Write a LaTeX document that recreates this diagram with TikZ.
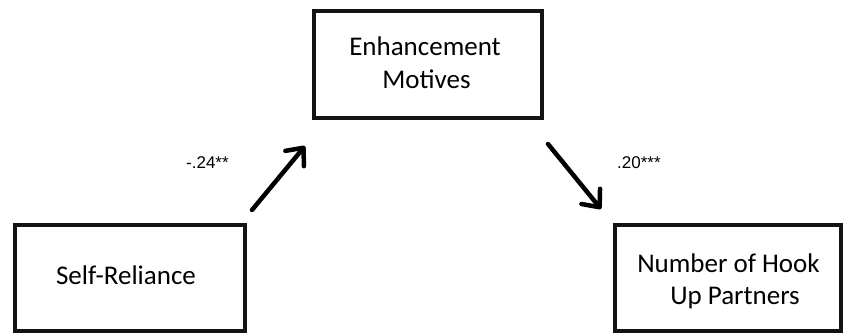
\documentclass[tikz,border=0pt]{standalone}
\usepackage{fontspec}
\setmainfont{Carlito}
\newfontfamily\labelfont{Liberation Sans}
\usetikzlibrary{arrows.meta}
\begin{document}
\begin{tikzpicture}[x=1pt,y=-1pt,
  boxnode/.style={draw=black!92, line width=4pt, inner sep=0pt},
  boxtext/.style={font={\fontsize{27}{33}\selectfont}, inner sep=0pt, anchor=base},
  coef/.style={font={\labelfont\fontsize{17}{20}\selectfont}, inner sep=0pt},
  path arrow/.style={line width=4.5pt, line cap=round, line join=round,
    -{Straight Barb[length=14pt, width=24pt, line cap=round, line join=round]}}]
\useasboundingbox (0,0) rectangle (843,335);
\node[boxnode, minimum width=228pt, minimum height=107pt] (enh) at (428,64.5) {};
\node[boxnode, minimum width=230pt, minimum height=106pt] (self) at (130,278) {};
\node[boxnode, minimum width=226pt, minimum height=106pt] (hook) at (728,278) {};
\node[boxtext] (enh1) at (425,55) {Enhancement};
\node[boxtext] (enh2) at (426.5,88) {Motives};
\node[boxtext] (self1) at (126,284) {Self-Reliance};
\node[boxtext] (hook1) at (728.5,272) {Number of Hook};
\node[boxtext] (hook2) at (735,304) {Up Partners};
\coordinate (a1s) at (252,210);
\coordinate (a1e) at (305,146);
\coordinate (a2s) at (548,144);
\coordinate (a2e) at (601,209);
\draw[path arrow] (a1s) -- (a1e);
\draw[path arrow] (a2s) -- (a2e);
\node[coef, anchor=west] (c1) at (186,163) {-.24**};
\node[coef, anchor=west] (c2) at (617,163) {.20***};
\end{tikzpicture}
\end{document}
